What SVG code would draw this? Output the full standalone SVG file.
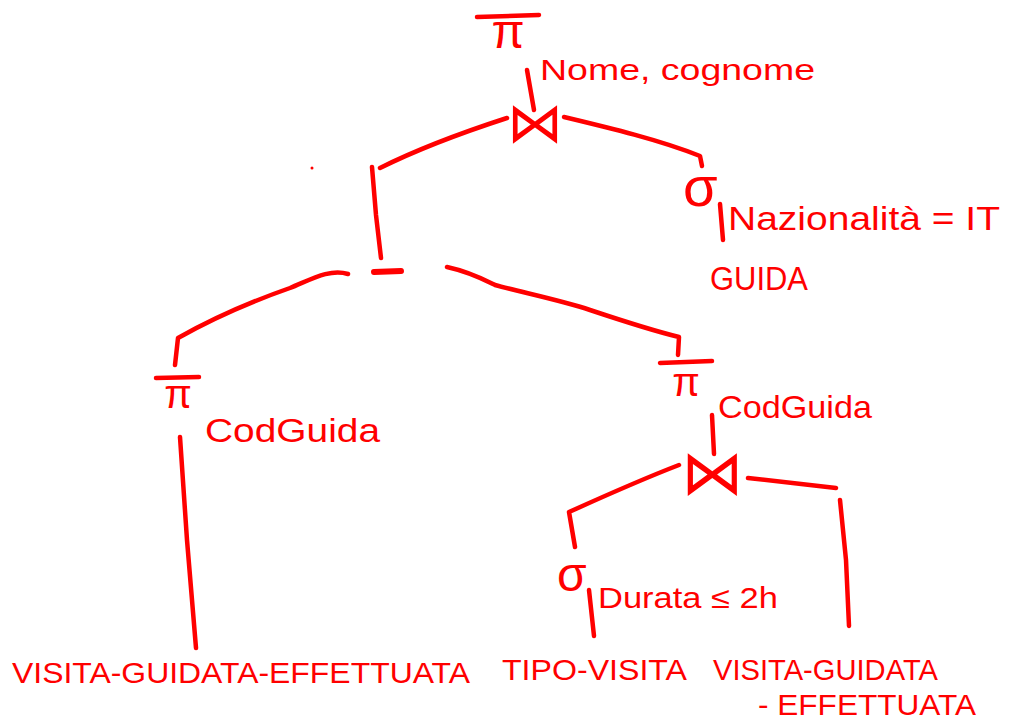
<svg xmlns="http://www.w3.org/2000/svg" width="1024" height="723" viewBox="0 0 1024 723">
<style>
.t{font-family:"Liberation Sans","DejaVu Sans",sans-serif;fill:#ff0000;}
.s{font-family:"DejaVu Sans","Liberation Sans",sans-serif;fill:#ff0000;}
.c{fill:none;stroke:#ff0000;stroke-width:4.5;stroke-linecap:round;stroke-linejoin:round;}
</style>
<rect width="1024" height="723" fill="#ffffff"/>
<g id="connectors">
<path class="c" d="M527,70 L534,110"/>
<path class="c" d="M507,118 C470,130 420,148 380,168 M372,167 L376,215 L381,258"/>
<path class="c" d="M564,117 C610,128 660,140 700,156 L702,166"/>
<path class="c" d="M348,274 C330,268 310,280 290,288 C250,302 210,320 178,338 L175,365"/>
<path class="c" d="M447,267 C470,272 485,280 495,285 C520,292 560,300 590,310 C620,320 650,330 679,337 L678,355"/>
<path class="c" d="M180,437 L187,540 L196,648"/>
<path class="c" d="M712,415 L714,454"/>
<path class="c" d="M679,465 C640,480 600,498 569,512 L575,547"/>
<path class="c" d="M748,478 L836,488 M840,500 L846,560 L849,626"/>
<path class="c" d="M589,590 L594,636"/>
<path class="c" d="M720,204 L723,240"/>
<circle cx="312" cy="168" r="1.5" fill="#ff0000"/>
</g>
<g id="proj-top">
<line class="c" x1="477" y1="17" x2="539" y2="15"/>
<text class="t" x="508" y="48" font-size="48" text-anchor="middle">π</text>
<text class="t" x="540" y="80" font-size="30" textLength="275" lengthAdjust="spacingAndGlyphs">Nome, cognome</text>
</g>
<g id="join-top">
<text class="s" x="535" y="142" font-size="56" text-anchor="middle">⋈</text>
</g>
<g id="select-guida">
<text class="t" x="683" y="206" font-size="56">σ</text>
<text class="t" x="728" y="230" font-size="34" textLength="272" lengthAdjust="spacingAndGlyphs">Nazionalità = IT</text>
<text class="t" x="710" y="290" font-size="34" textLength="98" lengthAdjust="spacingAndGlyphs">GUIDA</text>
</g>
<g id="difference">
<line class="c" x1="374" y1="272" x2="401" y2="271" style="stroke-width:6"/>
</g>
<g id="proj-left">
<line class="c" x1="156" y1="378" x2="199" y2="377"/>
<text class="t" x="178" y="408" font-size="40" text-anchor="middle">π</text>
<text class="t" x="205" y="442" font-size="34" textLength="175" lengthAdjust="spacingAndGlyphs">CodGuida</text>
</g>
<g id="proj-right">
<line class="c" x1="660" y1="363" x2="712" y2="361"/>
<text class="t" x="686" y="396" font-size="40" text-anchor="middle">π</text>
<text class="t" x="718" y="418" font-size="32" textLength="154" lengthAdjust="spacingAndGlyphs">CodGuida</text>
</g>
<g id="join-bottom">
<text class="s" x="712" y="494" font-size="62" text-anchor="middle">⋈</text>
</g>
<g id="select-durata">
<text class="t" x="557" y="591" font-size="48">σ</text>
<text class="t" x="598" y="608" font-size="30" textLength="180" lengthAdjust="spacingAndGlyphs">Durata ≤ 2h</text>
</g>
<g id="rel-visita-guidata-effettuata-1">
<text class="t" x="12" y="683" font-size="30" textLength="458" lengthAdjust="spacingAndGlyphs">VISITA-GUIDATA-EFFETTUATA</text>
</g>
<g id="rel-tipo-visita">
<text class="t" x="502" y="680" font-size="30" textLength="185" lengthAdjust="spacingAndGlyphs">TIPO-VISITA</text>
</g>
<g id="rel-visita-guidata-effettuata-2">
<text class="t" x="713" y="680" font-size="30" textLength="225" lengthAdjust="spacingAndGlyphs">VISITA-GUIDATA</text>
<text class="t" x="758" y="715" font-size="30" textLength="218" lengthAdjust="spacingAndGlyphs">- EFFETTUATA</text>
</g>
</svg>
